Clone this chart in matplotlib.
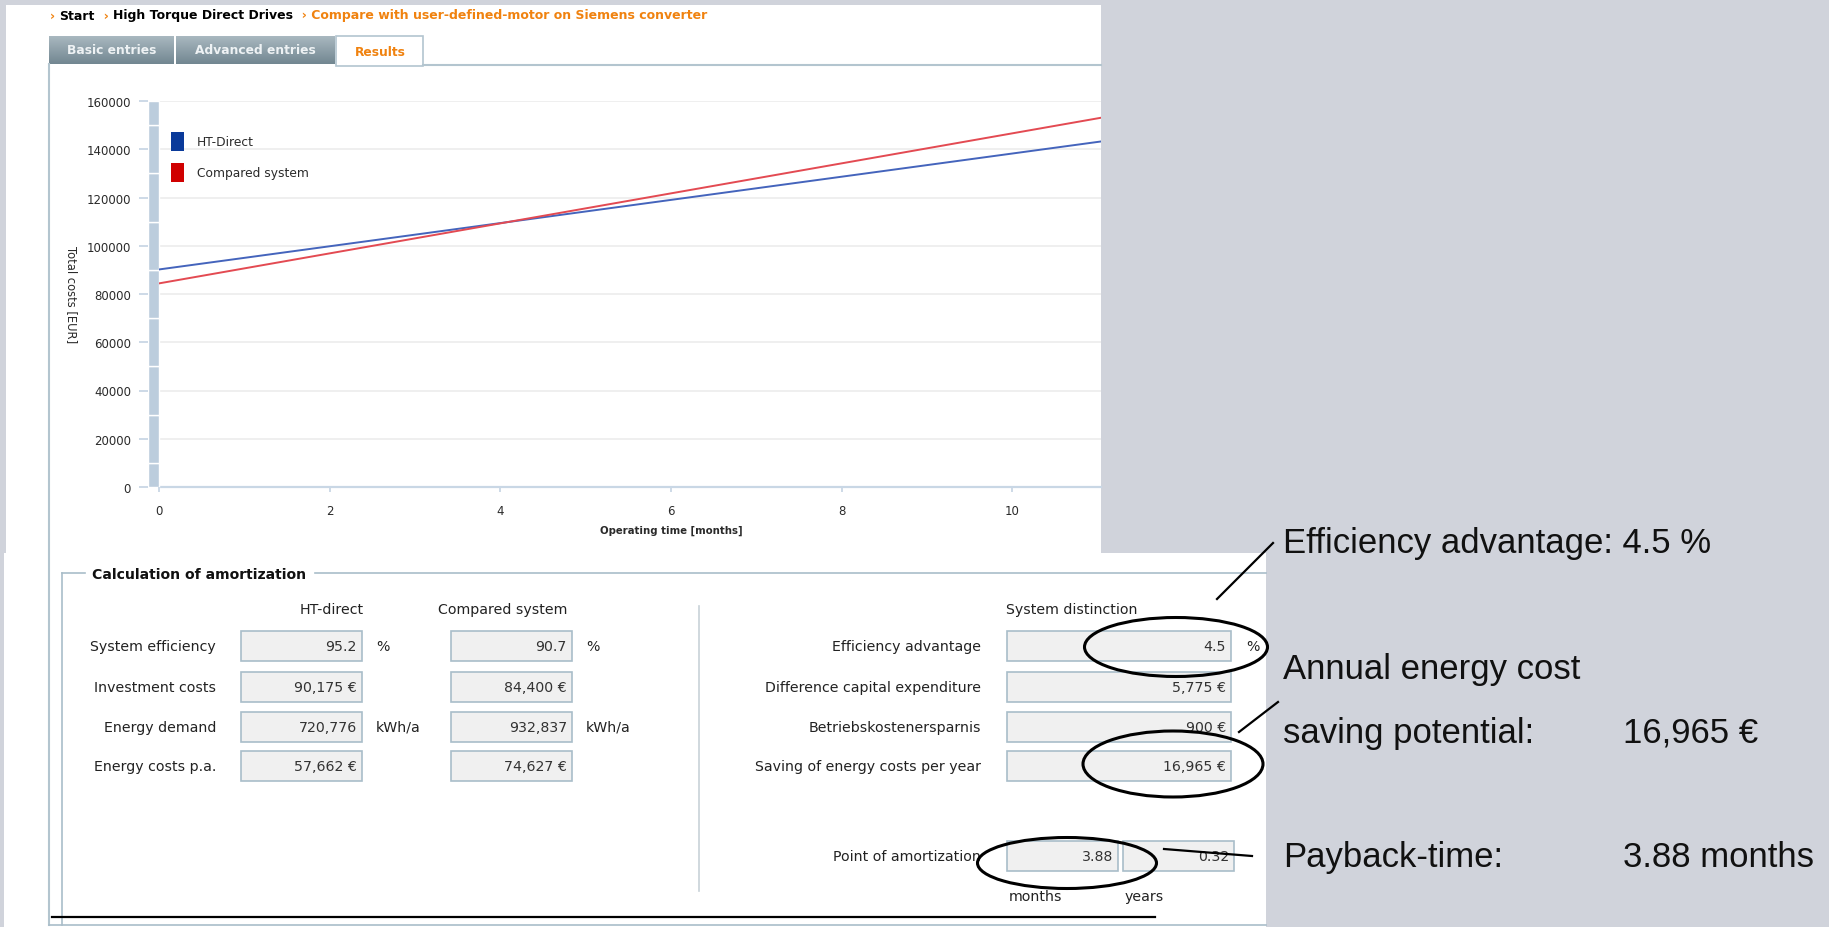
import numpy as np
import matplotlib
matplotlib.use('Agg')
import matplotlib.pyplot as plt
from matplotlib.patches import Rectangle, Ellipse, Patch

W, H = 1829, 928

# total costs [EUR] against operating time [months]
months = [0, 12]
ht_direct_costs = [90175, 147837]
compared_costs = [84400, 159027]
cost_ticks = [0, 20000, 40000, 60000, 80000, 100000, 120000, 140000, 160000]
month_ticks = [0, 2, 4, 6, 8, 10]
series_names = ['HT-Direct', 'Compared system']

breadcrumb = ['Start', 'High Torque Direct Drives',
              'Compare with user-defined-motor on Siemens converter']
tab_names = ['Basic entries', 'Advanced entries', 'Results']

# amortization table
row_labels = ['System efficiency', 'Investment costs', 'Energy demand', 'Energy costs p.a.']
ht_values = ['95.2', '90,175 €', '720,776', '57,662 €']
ht_units = ['%', '', 'kWh/a', '']
compared_values = ['90.7', '84,400 €', '932,837', '74,627 €']
compared_units = ['%', '', 'kWh/a', '']
column_headers = ['HT-direct', 'Compared system', 'System distinction']
distinction_labels = ['Efficiency advantage', 'Difference capital expenditure',
                      'Betriebskostenersparnis', 'Saving of energy costs per year']
distinction_values = ['4.5', '5,775 €', '900 €', '16,965 €']
distinction_units = ['%', '', '', '']
amortization_values = ['3.88', '0.32']
amortization_units = ['months', 'years']

callout_left = ['Efficiency advantage: 4.5 %', 'Annual energy cost',
                'saving potential:', 'Payback-time:']
callout_right = ['', '', '16,965 €', '3.88 months']

ORANGE = '#f0820f'
FRAME = '#b3c5cf'
BOX_EDGE = '#a9bdc9'
TXT = '#222222'

fig = plt.figure(figsize=(W / 100, H / 100), dpi=100)
fig.patch.set_facecolor('#d0d3db')

bg = fig.add_axes([0, 0, 1, 1])
bg.set_autoscale_on(False)
bg.set_xlim(0, W)
bg.set_ylim(H, 0)
bg.axis('off')

# white panels
bg.add_patch(Rectangle((6, 6), 1095, 548, fc='white', ec='none'))
bg.add_patch(Rectangle((4, 554), 1262, 374, fc='white', ec='none'))

# breadcrumb, chained text pieces
pieces = [('› ', ORANGE), (breadcrumb[0], 'black'), ('  › ', ORANGE),
          (breadcrumb[1], 'black'), ('  › ' + breadcrumb[2], ORANGE)]
prev = bg.text(50, 16, pieces[0][0], color=pieces[0][1], fontsize=9.0,
               fontweight='bold', va='center')
for txt, col in pieces[1:]:
    prev = bg.annotate(txt, xy=(1, 0.5), xycoords=prev, va='center',
                       color=col, fontsize=9.0, fontweight='bold')

# tabs
grad = np.linspace(0, 1, 30)[:, None, None]
top_c = np.array([0.66, 0.72, 0.75])
bot_c = np.array([0.45, 0.53, 0.57])
grad_img = top_c + (bot_c - top_c) * grad
for (x0, x1), name in zip([(49, 174), (176, 335)], tab_names[:2]):
    bg.imshow(grad_img, extent=(x0, x1, 65, 37), aspect='auto', zorder=1)
    bg.text((x0 + x1) / 2, 51, name, color='#eef2f4', fontsize=8.8,
            fontweight='bold', ha='center', va='center', zorder=2)
bg.add_patch(Rectangle((336, 37), 87, 30, fc='white', ec=FRAME, lw=1.2, zorder=1))
bg.text(380, 52, tab_names[2], color=ORANGE, fontsize=8.8, fontweight='bold',
        ha='center', va='center', zorder=2)
bg.plot([423, 1101], [65.5, 65.5], color=FRAME, lw=1.5, zorder=1)
bg.plot([49, 49], [65, 926], color=FRAME, lw=1.5, zorder=1)

# cost chart
def fig_rect(x0, y0, x1, y1):
    return [x0 / W, 1 - y1 / H, (x1 - x0) / W, (y1 - y0) / H]

ax = fig.add_axes(fig_rect(159, 102, 1101, 488))
ax.set_facecolor('none')
ax.set_xlim(0, 11.04)
ax.set_ylim(0, 160000)
for s in ax.spines.values():
    s.set_visible(False)
ax.spines['left'].set_position(('outward', 7.9))

for v in cost_ticks[1:]:
    ax.axhline(v, color='#ececec', lw=1.2, zorder=0)
ax.axhline(0, color='#c9d7e5', lw=1.6, zorder=1, clip_on=False)

# segmented wall along the cost axis
ytr = ax.get_yaxis_transform()
edges = [cost_ticks[0]] + [(a + b) / 2 for a, b in zip(cost_ticks[:-1], cost_ticks[1:])] + [cost_ticks[-1]]
for lo, hi in zip(edges[:-1], edges[1:]):
    ax.add_patch(Rectangle((-11 / 942, lo), 11 / 942, hi - lo, transform=ytr,
                           fc='#bccddd', ec='white', lw=1, clip_on=False))

ax.plot(months, ht_direct_costs, color='#4464bc', lw=1.4, zorder=3)
ax.plot(months, compared_costs, color='#e34a52', lw=1.4, zorder=3)

ax.set_yticks(cost_ticks)
ax.set_yticklabels([str(v) for v in cost_ticks])
ax.set_xticks(month_ticks)
ax.set_xticklabels([str(v) for v in month_ticks])
ax.tick_params(axis='y', length=6.5, width=1.3, color='#c9d7e5', pad=5.8,
               labelsize=8.5, labelcolor='#2a2a2a')
ax.tick_params(axis='x', length=3.6, width=1.3, color='#c9d7e5', pad=8.6,
               labelsize=8.5, labelcolor='#2a2a2a')

ax.set_ylabel('Total costs [EUR]', rotation=-90, fontsize=8.3, color='#2a2a2a',
              va='center', ha='center')
ax.yaxis.set_label_coords(-0.0924, 0.5)
ax.set_xlabel('Operating time [months]', fontsize=7.3, fontweight='bold',
              color='#2a2a2a')
ax.xaxis.label.set_va('center')
ax.xaxis.set_label_coords(0.5435, -0.111)

ax.legend(handles=[Patch(fc='#0a3a9a', label=series_names[0]),
                   Patch(fc='#d00000', label=series_names[1])],
          loc='upper left', bbox_to_anchor=(0.0127, 0.9197), frameon=False,
          borderpad=0, borderaxespad=0, handlelength=1.07, handleheight=2.02,
          handletextpad=1.07, labelspacing=0.94, fontsize=8.8, labelcolor='#2a2a2a')

# amortization fieldset
bg.plot([62, 62], [574, 926], color=BOX_EDGE, lw=1.2)
bg.plot([62, 85], [574, 574], color=BOX_EDGE, lw=1.2)
bg.plot([315, 1266], [574, 574], color=BOX_EDGE, lw=1.2)
bg.plot([49, 1266], [926, 926], color=BOX_EDGE, lw=1.2)
bg.plot([52, 1155], [918, 918], color='black', lw=1.6)
bg.text(92, 575, 'Calculation of amortization', fontsize=10.1, fontweight='bold',
        va='center', color='#111111')
bg.plot([699, 699], [607, 892], color='#c8d2d8', lw=1.2)

FS = 10.2
for x, name in zip([332, 503, 1072], column_headers):
    bg.text(x, 610, name, fontsize=FS, ha='center', va='center', color=TXT)


def value_box(x0, x1, y, value):
    bg.add_patch(Rectangle((x0, y - 15), x1 - x0, 30, fc='#f0f0f0', ec=BOX_EDGE, lw=1.2))
    bg.text(x1 - 5, y, value, fontsize=FS, ha='right', va='center', color='#333333')


row_y = [647, 688, 728, 767]
for i, y in enumerate(row_y):
    bg.text(216, y, row_labels[i], fontsize=FS, ha='right', va='center', color=TXT)
    value_box(241, 362, y, ht_values[i])
    bg.text(376, y, ht_units[i], fontsize=FS, va='center', color=TXT)
    value_box(451, 572, y, compared_values[i])
    bg.text(586, y, compared_units[i], fontsize=FS, va='center', color=TXT)
    bg.text(981, y, distinction_labels[i], fontsize=FS, ha='right', va='center', color=TXT)
    value_box(1007, 1231, y, distinction_values[i])
    bg.text(1246, y, distinction_units[i], fontsize=FS, va='center', color=TXT)

bg.text(981, 857, 'Point of amortization', fontsize=FS, ha='right', va='center', color=TXT)
for (x0, x1), val, unit in zip([(1007, 1118), (1123, 1234)], amortization_values,
                               amortization_units):
    value_box(x0, x1, 857, val)
    bg.text(x0 + 2, 897, unit, fontsize=FS, va='center', color=TXT)

# hand drawn highlights
for cx, cy, w, h in [(1176, 648, 183, 59), (1173, 765, 180, 66), (1067, 864, 179, 51)]:
    bg.add_patch(Ellipse((cx, cy), w, h, fill=False, ec='black', lw=2.2, zorder=5))
for (x0, y0), (x1, y1) in [((1217, 600), (1273, 544)), ((1239, 733), (1278, 703)),
                           ((1164, 850), (1252, 857))]:
    bg.plot([x0, x1], [y0, y1], color='black', lw=1.6, zorder=5)

# callout texts
for y, left, right in zip([553, 679, 743, 867], callout_left, callout_right):
    bg.text(1283, y, left, fontsize=25, family='Liberation Sans', va='baseline',
            color='#111111')
    if right:
        bg.text(1623, y, right, fontsize=25, family='Liberation Sans', va='baseline',
                color='#111111')

fig.savefig('out.png', dpi=100)
